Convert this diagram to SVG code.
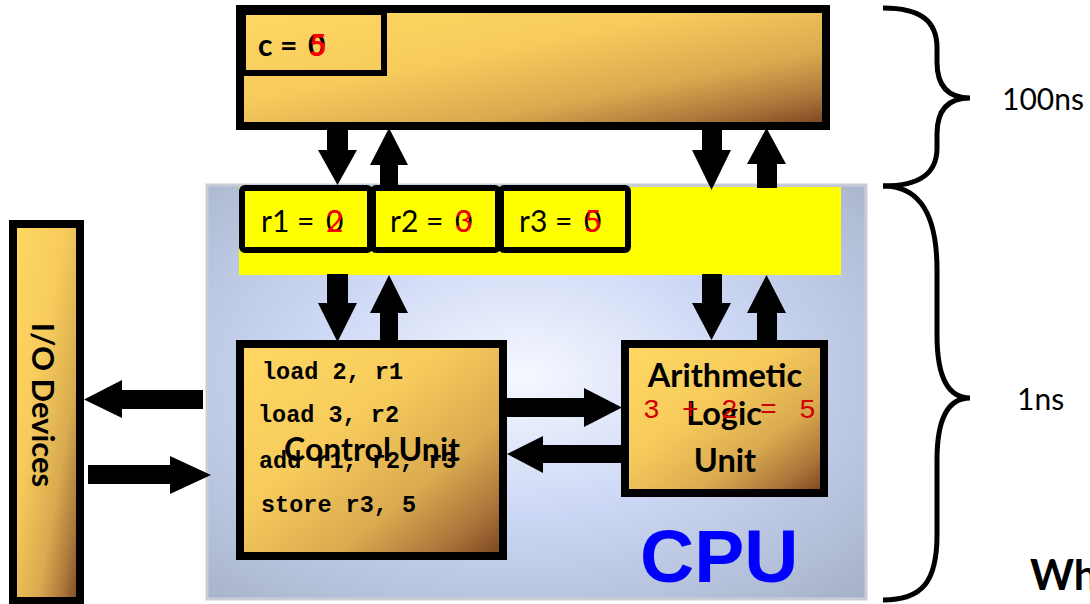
<svg xmlns="http://www.w3.org/2000/svg" width="1090" height="604" viewBox="0 0 1090 604">
  <defs>
    <linearGradient id="gold" x1="0" y1="0" x2="1" y2="1">
      <stop offset="0" stop-color="#FFD862"/>
      <stop offset="0.4" stop-color="#F6CB5C"/>
      <stop offset="0.68" stop-color="#D9AA4F"/>
      <stop offset="0.86" stop-color="#AC773B"/>
      <stop offset="1" stop-color="#784220"/>
    </linearGradient>
    <radialGradient id="cpuBg" cx="0.48" cy="0.46" r="0.75">
      <stop offset="0" stop-color="#F6F8FF"/>
      <stop offset="0.45" stop-color="#CCD7F5"/>
      <stop offset="1" stop-color="#A6B1C8"/>
    </radialGradient>
    <style>
      .box { fill: url(#gold); stroke: #000; stroke-width: 8; }
      .reg { fill: #FFFF00; stroke: #000; stroke-width: 6; }
      .arr { fill: #000; }
      .lbl { font-family: Lato, "Liberation Sans", sans-serif; fill: #000; }
      .b { font-weight: bold; }
      .rv { font-size: 30px; }
      .code { font-family: "Liberation Mono", "DejaVu Sans Mono", monospace; font-weight: bold; font-size: 23.5px; fill: #000; }
      .red { fill: #FF0000; }
      .brace { fill: none; stroke: #000; stroke-width: 5; }
    </style>
  </defs>

  <rect width="1090" height="604" fill="#FFFFFF"/>

  <!-- CPU enclosure -->
  <g id="cpu">
    <rect x="207" y="185" width="659" height="414" fill="url(#cpuBg)" stroke="#C9CDD5" stroke-width="3"/>
    <text x="640" y="582" font-family="'Liberation Sans', Arial, sans-serif" font-weight="bold" font-size="75" fill="#0000FF">CPU</text>
  </g>

  <!-- main memory -->
  <g id="memory">
    <rect class="box" x="240" y="9" width="586" height="117"/>
    <rect x="243" y="12" width="141" height="61" fill="none" stroke="#000" stroke-width="6"/>
    <text class="lbl b" x="258" y="56" font-size="30">c</text>
    <text class="lbl b" x="280" y="56" font-size="30">=</text>
    <text class="lbl b" x="308" y="56" font-size="30">0</text>
    <text class="lbl b red" x="309" y="56" font-size="30">5</text>
  </g>

  <!-- register bank -->
  <g id="registers">
    <rect x="239" y="187" width="602" height="88" fill="#FFFF00"/>
    <rect class="reg" x="242" y="188" width="128" height="62" rx="3"/>
    <rect class="reg" x="373" y="188" width="125" height="62" rx="3"/>
    <rect class="reg" x="501" y="188" width="127" height="62" rx="3"/>
    <text class="lbl rv" x="261" y="232">r1 =</text>
    <text class="lbl rv" x="326" y="232">0</text>
    <text class="lbl rv red" x="326" y="232">2</text>
    <text class="lbl rv" x="390" y="232">r2 =</text>
    <text class="lbl rv" x="455" y="232">0</text>
    <text class="lbl rv red" x="455" y="232">3</text>
    <text class="lbl rv" x="519" y="232">r3 =</text>
    <text class="lbl rv" x="584" y="232">0</text>
    <text class="lbl rv red" x="584" y="232">5</text>
  </g>

  <!-- control unit -->
  <g id="control-unit">
    <rect class="box" x="240" y="344" width="263" height="212"/>
    <text class="code" x="262" y="379">load 2, r1</text>
    <text class="code" x="258" y="422">load 3, r2</text>
    <text class="code" x="259" y="468">add r1, r2, r3</text>
    <text class="code" x="261" y="512">store r3, 5</text>
    <text class="lbl b" x="372" y="461" font-size="32" text-anchor="middle">Control Unit</text>
  </g>

  <!-- arithmetic logic unit -->
  <g id="alu">
    <rect class="box" x="625" y="344" width="199" height="149"/>
    <text class="lbl b" x="725" y="387" font-size="32.5" text-anchor="middle">Arithmetic</text>
    <text class="lbl b" x="724" y="425" font-size="32.5" text-anchor="middle">Logic</text>
    <text class="lbl b" x="725" y="472" font-size="32.5" text-anchor="middle">Unit</text>
    <text x="643" y="418" font-family="'Liberation Mono', 'DejaVu Sans Mono', monospace" font-size="28" letter-spacing="2.7" fill="#D00000">3 + 2 = 5</text>
  </g>

  <!-- input / output devices -->
  <g id="io-devices">
    <rect class="box" x="13" y="224" width="67" height="377"/>
    <text class="lbl b" transform="translate(32,405) rotate(90)" font-size="31" text-anchor="middle">I/O Devices</text>
  </g>

  <!-- data paths -->
  <g id="connectors">
    <!-- memory <-> registers -->
    <polygon class="arr" points="327,128 348,128 348,150 357,150 337.5,185 318,150 327,150"/>
    <polygon class="arr" points="389,128 408,165 398,165 398,187 380,187 380,165 370,165"/>
    <polygon class="arr" points="702,128 722,128 722,150 731,150 711.5,190 692,150 702,150"/>
    <polygon class="arr" points="766.5,128 786,164 777,164 777,188 757,188 757,164 747,164"/>
    <!-- registers <-> control unit -->
    <polygon class="arr" points="327,274 348,274 348,303 357,303 337.5,342 318,303 327,303"/>
    <polygon class="arr" points="389,275 408,313 398,313 398,342 380,342 380,313 370,313"/>
    <!-- registers <-> ALU -->
    <polygon class="arr" points="702,274 722,274 722,303 731,303 711.5,340 692,303 702,303"/>
    <polygon class="arr" points="766.5,275 786,313 777,313 777,342 757,342 757,313 747,313"/>
    <!-- control unit <-> ALU -->
    <polygon class="arr" points="507,398 584,398 584,388 622,407.5 584,427 584,417 507,417"/>
    <polygon class="arr" points="621,445 543,445 543,436 507,454 543,473 543,463 621,463"/>
    <!-- CPU <-> I/O -->
    <polygon class="arr" points="203,390 122,390 122,380 84,399.5 122,418 122,409 203,409"/>
    <polygon class="arr" points="88,465 170,465 170,456 211,475 170,494 170,484 88,484"/>
  </g>

  <!-- access time braces -->
  <g id="timing">
    <path class="brace" d="M883,8 C922,8 937,22 937,48 L937,62 C937,86 948,98 970,98 C948,98 937,110 937,134 L937,148 C937,172 922,186 883,186"/>
    <path class="brace" d="M883,186 C922,186 937,218 937,270 L937,335 C937,378 948,398 970,398 C948,398 937,418 937,460 L937,535 C937,582 922,600 883,600"/>
    <text class="lbl" x="1002" y="110" font-size="30">100ns</text>
    <text class="lbl" x="1017" y="410" font-size="30">1ns</text>
    <text class="lbl b" x="1030" y="590" font-size="42">Wh</text>
  </g>
</svg>
